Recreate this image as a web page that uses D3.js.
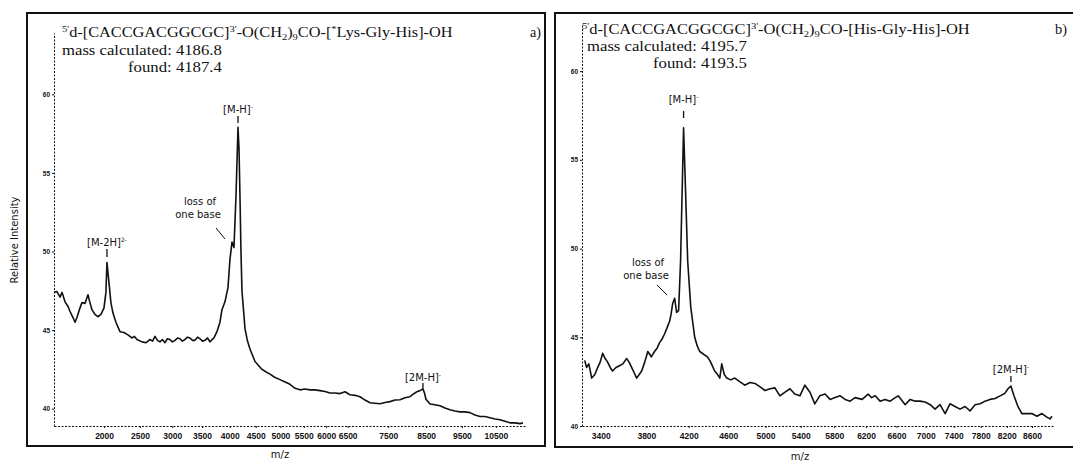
<!DOCTYPE html>
<html>
<head>
<meta charset="utf-8">
<script src="https://cdn.jsdelivr.net/npm/d3@7"></script>
<style>
  body { margin: 0; background: #fff; }
  .axis path.domain { stroke: #111; stroke-width: 1; stroke-dasharray: 2,1.5; }
  .axis line { stroke: #111; }
  .axis text { font-family: 'Liberation Sans Narrow', 'Liberation Sans', sans-serif; font-weight: bold; fill: #111; }
  .lbl { font-family: 'DejaVu Sans', sans-serif; font-size: 10px; fill: #111; }
  .serif { font-family: 'Liberation Serif', serif; font-size: 14px; fill: #111; }
</style>
</head>
<body>
<div id="chart-area"></div>
<script>
// panel a) m/z and relative intensity
var mzA = [1394, 1427, 1461, 1484, 1518, 1553, 1575, 1611, 1635, 1658, 1694, 1719, 1756, 1793, 1818,
  1843, 1881, 1919, 1959, 1998, 2024, 2038, 2065, 2091, 2118, 2159, 2215, 2270, 2327, 2384, 2420,
  2457, 2531, 2591, 2650, 2690, 2727, 2766, 2804, 2843, 2883, 2922, 2962, 3003, 3044, 3085, 3125,
  3166, 3208, 3250, 3292, 3335, 3378, 3421, 3464, 3507, 3551, 3595, 3640, 3675, 3711, 3765, 3819,
  3856, 3911, 3967, 4004, 4042, 4079, 4117, 4155, 4175, 4193, 4212, 4231, 4260, 4289, 4338, 4386,
  4435, 4485, 4555, 4624, 4700, 4786, 4880, 4992, 5100, 5202, 5310, 5417, 5526, 5636, 5748, 5860,
  5974, 6088, 6204, 6320, 6438, 6556, 6677, 6797, 6920, 7042, 7167, 7292, 7418, 7545, 7675, 7804,
  7935, 8066, 8133, 8199, 8266, 8333, 8374, 8414, 8455, 8496, 8605, 8740, 8881, 9020, 9161, 9300,
  9446, 9590, 9734, 9880, 10027, 10175, 10325, 10475, 10626, 10780, 10933, 11090, 11243, 11336]
var intA = [47.4, 47.45, 47.1, 47.4, 46.8, 46.5, 46.2, 45.8, 45.5, 45.8, 46.4, 46.75, 46.7, 47.25, 46.75,
  46.3, 46.0, 45.85, 46.0, 46.4, 47.4, 49.3, 48.0, 46.75, 46.1, 45.5, 44.9, 44.85, 44.7, 44.5, 44.6,
  44.4, 44.25, 44.2, 44.4, 44.3, 44.6, 44.35, 44.25, 44.4, 44.2, 44.45, 44.4, 44.25, 44.35, 44.5, 44.45,
  44.3, 44.4, 44.55, 44.5, 44.35, 44.35, 44.55, 44.45, 44.3, 44.35, 44.5, 44.25, 44.4, 44.5, 44.9, 45.5,
  46.3, 46.8, 47.7, 49.5, 50.6, 50.25, 53.5, 57.9, 56.5, 53.5, 50.0, 47.5, 46.3, 45.1, 44.3, 43.8,
  43.4, 43.0, 42.75, 42.5, 42.35, 42.2, 42.0, 41.85, 41.7, 41.55, 41.3, 41.2, 41.25, 41.2, 41.2, 41.15,
  41.1, 41.0, 41.0, 40.96, 41.08, 40.89, 40.85, 40.76, 40.55, 40.38, 40.35, 40.32, 40.4, 40.45, 40.55, 40.57,
  40.7, 40.76, 40.9, 41.0, 41.1, 41.15, 41.2, 41.27, 41.0, 40.6, 40.3, 40.25, 40.19, 40.05, 39.94, 39.85,
  39.8, 39.8, 39.75, 39.6, 39.5, 39.5, 39.43, 39.35, 39.3, 39.2, 39.1, 39.1, 39.05, 39.1]

// panel b)
var mzB = [3266, 3282, 3300, 3324, 3350, 3374, 3395, 3416, 3437, 3458, 3480, 3500, 3530, 3560, 3590,
  3623, 3645, 3667, 3690, 3712, 3735, 3757, 3785, 3813, 3845, 3875, 3900, 3922, 3945, 3969, 3990,
  4016, 4030, 4045, 4064, 4083, 4102, 4121, 4150, 4170, 4190, 4220, 4259, 4285, 4309, 4335, 4358,
  4385, 4409, 4435, 4459, 4490, 4512, 4532, 4558, 4584, 4625, 4668, 4720, 4774, 4830, 4884, 4940,
  4993, 5050, 5104, 5160, 5215, 5275, 5330, 5390, 5448, 5508, 5565, 5624, 5689, 5749, 5810, 5873,
  5935, 5997, 6060, 6150, 6226, 6270, 6318, 6381, 6447, 6515, 6582, 6622, 6670, 6717, 6785, 6853,
  6921, 6992, 7063, 7131, 7202, 7275, 7345, 7419, 7491, 7566, 7639, 7714, 7791, 7864, 7940, 8018,
  8095, 8172, 8218, 8264, 8312, 8375, 8437, 8518, 8599, 8680, 8761, 8843, 8893, 8926]
var intB = [43.7, 43.3, 43.5, 42.7, 42.9, 43.3, 43.6, 44.1, 43.8, 43.6, 43.3, 43.1, 43.3, 43.4, 43.5,
  43.8, 43.6, 43.3, 43.0, 42.7, 42.9, 43.1, 43.6, 44.2, 43.9, 44.2, 44.4, 44.7, 44.9, 45.2, 45.5,
  45.9, 46.3, 46.9, 47.2, 46.4, 46.5, 49.3, 56.8, 53.1, 49.3, 46.7, 45.0, 44.5, 44.2, 44.1, 44.0,
  43.9, 43.7, 43.4, 43.1, 42.9, 42.7, 43.5, 42.9, 42.7, 42.6, 42.7, 42.5, 42.3, 42.45, 42.4, 42.2,
  42.0, 42.1, 42.15, 41.7, 41.9, 42.1, 41.8, 41.7, 42.3, 41.9, 41.25, 41.7, 41.8, 41.5, 41.6, 41.7,
  41.5, 41.4, 41.6, 41.5, 41.8, 41.6, 41.7, 41.4, 41.5, 41.4, 41.6, 41.7, 41.45, 41.2, 41.5, 41.4,
  41.4, 41.35, 41.2, 40.95, 41.2, 40.7, 41.25, 41.1, 40.95, 41.1, 40.85, 41.2, 41.25, 41.4, 41.5, 41.55,
  41.7, 41.85, 42.1, 42.25, 41.7, 41.1, 40.7, 40.7, 40.7, 40.55, 40.7, 40.5, 40.4, 40.55]

// tick labels
var xTicksA = [2000, 2500, 3000, 3500, 4000, 4500, 5000, 5500, 6000, 6500, 7500, 8500, 9500, 10500]
var xTicksB = [3400, 3800, 4200, 4600, 5000, 5400, 5800, 6200, 6600, 7000, 7400, 7800, 8200, 8600]
var yTicks = [40, 45, 50, 55, 60]

var svg = d3.select('#chart-area')
  .append('svg')
  .attr('width', 1073)
  .attr('height', 461)

// time-of-flight style axes: m/z runs on a power scale
var xA = d3.scalePow().exponent(0.5).domain([1394, 11400]).range([54, 525])
var yA = d3.scaleLinear().domain([38.9, 63.9]).range([426, 33])
var xB = d3.scalePow().exponent(0.3).domain([3244, 8944]).range([582, 1053])
var yB = d3.scaleLinear().domain([40, 62.6]).range([426, 25])

function panel (x, y, mz, inten, xTicks) {
  var g = svg.append('g')

  var xAxis = d3.axisBottom(x).tickValues(xTicks).tickSize(2).tickSizeOuter(0).tickPadding(5)
    .tickFormat(d3.format('d'))
  g.append('g')
    .attr('class', 'axis')
    .attr('transform', 'translate(0,' + y.range()[0] + ')')
    .call(xAxis)
    .selectAll('text').attr('font-size', '8.5px')

  var yAxis = d3.axisLeft(y).tickValues(yTicks).tickSize(2).tickSizeOuter(0).tickPadding(2)
  g.append('g')
    .attr('class', 'axis')
    .attr('transform', 'translate(' + x.range()[0] + ',0)')
    .call(yAxis)
    .selectAll('text').attr('font-size', '6.5px').attr('font-weight', 'normal')

  var line = d3.line()
    .x(function (d, i) { return x(mz[i]) })
    .y(function (d) { return y(d) })
  g.append('path')
    .datum(inten)
    .attr('d', line)
    .attr('fill', 'none')
    .attr('stroke', '#111')
    .attr('stroke-width', 1.6)
    .attr('stroke-linejoin', 'round')
  return g
}

// frames
svg.append('rect').attr('x', 27).attr('y', 13).attr('width', 518).attr('height', 433)
  .attr('fill', 'none').attr('stroke', '#111').attr('stroke-width', 2)
svg.append('rect').attr('x', 555).attr('y', 13).attr('width', 530).attr('height', 434)
  .attr('fill', 'none').attr('stroke', '#111').attr('stroke-width', 2)

panel(xA, yA, mzA, intA, xTicksA)
panel(xB, yB, mzB, intB, xTicksB)

// serif text squeezed/stretched to the width it has in the scan
function serifText (x, y, w, parts) {
  var t = svg.append('text').attr('class', 'serif').attr('transform', 'translate(' + x + ',' + y + ')')
  var shift = 0
  parts.forEach(function (p) {
    var target = p[1] === 'sup' ? -5 : p[1] === 'sub' ? 3 : 0
    t.append('tspan')
      .attr('dy', target - shift)
      .attr('font-size', p[1] ? '9px' : null)
      .text(p[0])
    shift = target
  })
  var len = t.node().getComputedTextLength()
  t.attr('transform', 'translate(' + x + ',' + y + ') scale(' + (w / len) + ',1)')
}

function title (x, y, w, peptide) {
  serifText(x, y, w, [['5\'', 'sup'], ['d-[CACCGACGGCGC]'], ['3\'', 'sup'], ['-O(CH'], ['2', 'sub'],
    [')'], ['9', 'sub'], ['CO-[']].concat(peptide).concat([[']-OH']]))
}

title(62, 37, 391, [['*', 'sup'], ['Lys-Gly-His']])
serifText(62, 55, 160, [['mass calculated: 4186.8']])
serifText(128, 72, 94, [['found: 4187.4']])
serifText(530, 37, 11, [['a)']])

title(582, 34, 388, [['His-Gly-His']])
serifText(587, 51, 160, [['mass calculated: 4195.7']])
serifText(653, 68, 94, [['found: 4193.5']])
serifText(1055, 34, 12, [['b)']])

// peak labels
function peakLabel (x, y, name, sup, tickTop, tickBottom) {
  var t = svg.append('text').attr('class', 'lbl').attr('x', x).attr('y', y).attr('text-anchor', 'middle')
  t.append('tspan').text(name)
  t.append('tspan').attr('dy', -4).attr('font-size', '6px').text(sup)
  svg.append('line').attr('x1', x).attr('x2', x).attr('y1', tickTop).attr('y2', tickBottom)
    .attr('stroke', '#111').attr('stroke-width', 1.3)
}

peakLabel(xA(4155), 113, '[M-H]', '-', 116, 123)
peakLabel(xA(2038), 246, '[M-2H]', '2-', 249, 257)
peakLabel(xA(8414), 381, '[2M-H]', '-', 383, 388)
peakLabel(xB(4150), 103, '[M-H]', '-', 111, 118)
peakLabel(xB(8264), 373, '[2M-H]', '-', 376, 382)

function baseNote (x, y, lx1, ly1, lx2, ly2) {
  svg.append('text').attr('class', 'lbl').attr('x', x).attr('y', y).attr('text-anchor', 'middle').text('loss of')
  svg.append('text').attr('class', 'lbl').attr('x', x - 2).attr('y', y + 13).attr('text-anchor', 'middle').text('one base')
  svg.append('line').attr('x1', lx1).attr('y1', ly1).attr('x2', lx2).attr('y2', ly2)
    .attr('stroke', '#111').attr('stroke-width', 1)
}
baseNote(200, 205, 216, 228, 225, 239)
baseNote(648, 266, 657, 285, 667, 295)

// axis titles
svg.append('text').attr('class', 'lbl')
  .attr('transform', 'translate(18,240) rotate(-90)')
  .attr('text-anchor', 'middle')
  .attr('font-size', '9px')
  .text('Relative Intensity')
svg.append('text').attr('class', 'lbl').attr('x', 280).attr('y', 458).attr('text-anchor', 'middle')
  .attr('font-size', '9px').text('m/z')
svg.append('text').attr('class', 'lbl').attr('x', 800).attr('y', 460).attr('text-anchor', 'middle')
  .attr('font-size', '9px').text('m/z')
</script>
</body>
</html>
